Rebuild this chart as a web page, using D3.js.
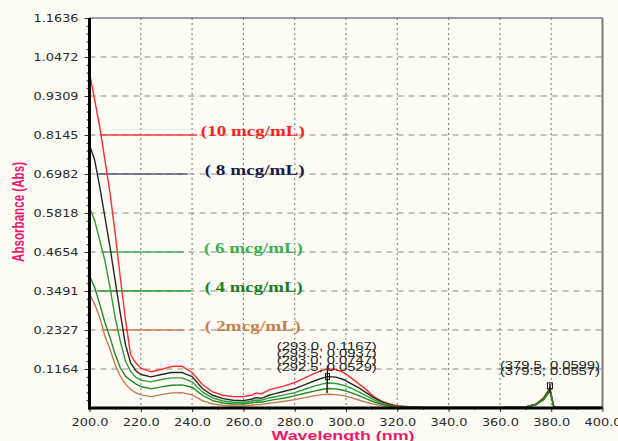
<!DOCTYPE html>
<html>
<head>
<meta charset="utf-8">
<script src="https://cdn.jsdelivr.net/npm/d3@7"></script>
<style>
  body { margin: 0; background: #fdfdf5; }
  svg { display: block; }
  .tick text { font-family: "DejaVu Sans", Verdana, sans-serif; font-size: 11px; fill: #2a2a2a; }
</style>
</head>
<body>
<svg id="chart" width="618" height="441"></svg>
<script>
// wavelengths (nm) shared by all scans
var wavelengths = [200, 202, 204, 206, 208, 210, 212, 214, 216, 218, 220, 224, 228, 232, 236, 240, 244, 248, 252, 256,
  260, 263, 265, 267, 270, 272, 276, 280, 284, 288, 291, 293, 296, 299, 302, 305, 308, 311, 314, 317,
  320, 330, 340, 350, 360, 370, 374, 377, 379.5, 381, 383, 390, 400];

var abs10 = [1.000, 0.920, 0.838, 0.740, 0.641, 0.522, 0.390, 0.265, 0.160, 0.135, 0.119, 0.108, 0.115, 0.124, 0.125, 0.106, 0.070, 0.048, 0.038, 0.034,
  0.034, 0.038, 0.045, 0.042, 0.054, 0.058, 0.066, 0.076, 0.090, 0.104, 0.113, 0.1167, 0.115, 0.106, 0.090, 0.072, 0.054, 0.033, 0.020, 0.012,
  0.006, 0.002, 0.002, 0.002, 0.002, 0.003, 0.012, 0.030, 0.0599, 0.004, 0.002, 0.002, 0.002];
var abs8 = [0.785, 0.740, 0.660, 0.570, 0.480, 0.380, 0.283, 0.190, 0.135, 0.112, 0.100, 0.093, 0.100, 0.106, 0.106, 0.094, 0.058, 0.038, 0.028, 0.023,
  0.022, 0.026, 0.031, 0.029, 0.038, 0.042, 0.050, 0.058, 0.070, 0.082, 0.090, 0.0937, 0.092, 0.085, 0.073, 0.060, 0.045, 0.030, 0.018, 0.010,
  0.005, 0.002, 0.002, 0.002, 0.002, 0.003, 0.011, 0.028, 0.0557, 0.004, 0.002, 0.002, 0.002];
var abs6 = [0.597, 0.560, 0.500, 0.440, 0.360, 0.270, 0.200, 0.140, 0.110, 0.092, 0.083, 0.078, 0.085, 0.090, 0.090, 0.078, 0.048, 0.030, 0.021, 0.017,
  0.017, 0.020, 0.024, 0.023, 0.030, 0.033, 0.039, 0.046, 0.056, 0.066, 0.072, 0.0747, 0.073, 0.068, 0.059, 0.048, 0.036, 0.024, 0.014, 0.008,
  0.004, 0.002, 0.001, 0.002, 0.001, 0.003, 0.010, 0.026, 0.054, 0.004, 0.002, 0.001, 0.002];
var abs4 = [0.394, 0.360, 0.310, 0.255, 0.210, 0.160, 0.120, 0.095, 0.083, 0.072, 0.064, 0.057, 0.063, 0.068, 0.069, 0.062, 0.038, 0.022, 0.015, 0.012,
  0.012, 0.015, 0.018, 0.017, 0.022, 0.025, 0.030, 0.036, 0.044, 0.051, 0.056, 0.058, 0.057, 0.053, 0.046, 0.037, 0.027, 0.018, 0.011, 0.006,
  0.003, 0.001, 0.002, 0.001, 0.002, 0.003, 0.010, 0.025, 0.052, 0.004, 0.002, 0.002, 0.001];
var abs2 = [0.340, 0.310, 0.270, 0.215, 0.175, 0.130, 0.095, 0.072, 0.055, 0.046, 0.039, 0.034, 0.040, 0.045, 0.046, 0.039, 0.022, 0.012, 0.008, 0.006,
  0.006, 0.008, 0.010, 0.010, 0.014, 0.016, 0.020, 0.025, 0.031, 0.037, 0.040, 0.041, 0.040, 0.037, 0.031, 0.024, 0.017, 0.011, 0.007, 0.004,
  0.002, 0.001, 0.001, 0.001, 0.001, 0.002, 0.009, 0.024, 0.050, 0.003, 0.001, 0.001, 0.001];

var seriesNames = ['(10 mcg/mL)', '( 8 mcg/mL)', '( 6 mcg/mL)', '( 4 mcg/mL)', '( 2mcg/mL)'];
var seriesValues = [abs10, abs8, abs6, abs4, abs2];
var curveColors = ['#ff2a2a', '#262626', '#2f9a3a', '#1f8a24', '#c47a50'];
var legendLineColors = ['#ff3c3c', '#55557f', '#45b050', '#2a9a2a', '#c08050'];
var labelColors = ['#ff1e1e', '#1a1a4a', '#3cb050', '#1a7f22', '#c8804c'];
var legendAt = [0.8145, 0.6982, 0.4654, 0.3491, 0.2327];
var legendFrom = [204.1, 202.9, 204.8, 202.9, 205.2];
var legendTo = [241.9, 238.3, 236.7, 239.5, 237.1];
var legendTextAt = [243.4, 244.9, 244.6, 244.9, 244.9];
var legendTextLen = [104, 100, 99, 98, 96];

var yMax = 1.1636;
var yTickLabels = ['0.1164', '0.2327', '0.3491', '0.4654', '0.5818', '0.6982', '0.8145', '0.9309', '1.0472', '1.1636'];
var xTicks = [200, 220, 240, 260, 280, 300, 320, 340, 360, 380, 400];

var peak293Labels = ['(293.0, 0.1167)', '(293.5, 0.0937)', '(293.0, 0.0747)', '(292.5, 0.0529)'];
var peak380Labels = ['(379.5, 0.0599)', '(379.5, 0.0557)'];

var svg = d3.select('#chart');
var margin = { left: 89.5, top: 18, right: 15.5, bottom: 33 };
var width = +svg.attr('width'), height = +svg.attr('height');
var innerW = width - margin.left - margin.right;
var innerH = height - margin.top - margin.bottom;

svg.append('rect').attr('width', width).attr('height', height).attr('fill', '#fdfdf5');

var g = svg.append('g').attr('transform', `translate(${margin.left},${margin.top})`);

var x = d3.scaleLinear().domain([200, 400]).range([0, innerW]);
var y = d3.scaleLinear().domain([0, yMax]).range([innerH, 0]);

var yMajor = d3.range(1, 11).map(function (i) { return i * yMax / 10; });
var yMinor = d3.range(1, 50).map(function (i) { return i * yMax / 50; });
var xMinor = d3.range(210, 400, 10);

// grid
g.append('g').selectAll('line').data(yMajor.slice(0, 9)).enter().append('line')
  .attr('x1', 0).attr('x2', innerW)
  .attr('y1', function (d) { return y(d); }).attr('y2', function (d) { return y(d); })
  .attr('stroke', '#8a8a8a').attr('stroke-width', 1.2).attr('stroke-dasharray', '6,5');
g.append('g').selectAll('line').data(xTicks.slice(1, -1)).enter().append('line')
  .attr('x1', function (d) { return x(d); }).attr('x2', function (d) { return x(d); })
  .attr('y1', 0).attr('y2', innerH)
  .attr('stroke', '#8a8a8a').attr('stroke-width', 1.2).attr('stroke-dasharray', '2,3');

// frame top/right
g.append('line').attr('x1', 0).attr('x2', innerW).attr('y1', 0).attr('y2', 0)
  .attr('stroke', '#3a3a5a').attr('stroke-width', 1);
g.append('line').attr('x1', innerW).attr('x2', innerW).attr('y1', 0).attr('y2', innerH)
  .attr('stroke', '#7a7a7a').attr('stroke-width', 2);

// legend lines
seriesNames.forEach(function (name, i) {
  g.append('line')
    .attr('x1', x(legendFrom[i])).attr('x2', x(legendTo[i]))
    .attr('y1', y(legendAt[i])).attr('y2', y(legendAt[i]))
    .attr('stroke', legendLineColors[i]).attr('stroke-width', 1.3);
  g.append('text')
    .attr('x', x(legendTextAt[i])).attr('y', y(legendAt[i]) + 1)
    .attr('textLength', legendTextLen[i]).attr('lengthAdjust', 'spacingAndGlyphs')
    .attr('font-family', '"Liberation Serif", "Times New Roman", serif')
    .attr('font-weight', 'bold').attr('font-size', 15)
    .attr('fill', labelColors[i])
    .text(name);
});

// curves
var line = d3.line()
  .x(function (d) { return x(d[0]); })
  .y(function (d) { return y(d[1]); });
var drawOrder = [4, 0, 1, 2, 3];
drawOrder.forEach(function (i) {
  g.append('path')
    .datum(wavelengths.map(function (w, j) { return [w, seriesValues[i][j]]; }))
    .attr('fill', 'none')
    .attr('stroke', curveColors[i])
    .attr('stroke-width', 1.4)
    .attr('d', line);
});

// peak markers
g.append('line').attr('x1', x(292.8)).attr('x2', x(292.6))
  .attr('y1', y(0.126)).attr('y2', y(0.045))
  .attr('stroke', '#111').attr('stroke-width', 1.4);
g.append('rect').attr('x', x(292.8) - 2).attr('y', y(0.0937) - 3).attr('width', 4).attr('height', 6)
  .attr('fill', 'none').attr('stroke', '#111').attr('stroke-width', 1);
g.append('line').attr('x1', x(379.5)).attr('x2', x(379.5))
  .attr('y1', y(0.072)).attr('y2', y(0.045))
  .attr('stroke', '#111').attr('stroke-width', 1.4);
g.append('rect').attr('x', x(379.5) - 2.5).attr('y', y(0.075)).attr('width', 5).attr('height', 6)
  .attr('fill', 'none').attr('stroke', '#111').attr('stroke-width', 1);

var peakFont = '"Liberation Sans", Arial, sans-serif';
peak293Labels.forEach(function (t, i) {
  g.append('text')
    .attr('x', x(292.5)).attr('y', y(0.1167) - 19 + i * 7)
    .attr('text-anchor', 'middle')
    .attr('textLength', 100).attr('lengthAdjust', 'spacingAndGlyphs')
    .attr('font-family', peakFont).attr('font-size', 10).attr('fill', '#222')
    .text(t);
});
peak380Labels.forEach(function (t, i) {
  g.append('text')
    .attr('x', x(379.5)).attr('y', y(0.0599) - 19 + i * 6)
    .attr('text-anchor', 'middle')
    .attr('textLength', 100).attr('lengthAdjust', 'spacingAndGlyphs')
    .attr('font-family', peakFont).attr('font-size', 10).attr('fill', '#222')
    .text(t);
});

// axes
var yAxis = d3.axisLeft(y).tickValues(yMajor).tickSize(5).tickPadding(6)
  .tickFormat(function (d, i) { return yTickLabels[i]; });
var yAxisMinor = d3.axisLeft(y).tickValues(yMinor).tickSize(3).tickFormat('');
var xAxis = d3.axisBottom(x).tickValues(xTicks).tickSize(4).tickPadding(6)
  .tickFormat(function (d) { return d.toFixed(1); });
var xAxisMinor = d3.axisBottom(x).tickValues(xMinor).tickSize(2).tickFormat('');

var yG = g.append('g').call(yAxisMinor);
var yG2 = g.append('g').call(yAxis);
var xG = g.append('g').attr('transform', `translate(0,${innerH})`).call(xAxisMinor);
var xG2 = g.append('g').attr('transform', `translate(0,${innerH})`).call(xAxis);

[yG, yG2, xG, xG2].forEach(function (a) {
  a.select('.domain').remove();
  a.selectAll('.tick line').attr('stroke', '#333').attr('stroke-width', 1);
});
yG2.selectAll('.tick text').attr('textLength', 45).attr('lengthAdjust', 'spacingAndGlyphs');
xG2.selectAll('.tick text').attr('font-size', 10.5).attr('textLength', 37).attr('lengthAdjust', 'spacingAndGlyphs');

// thick left / bottom axis lines
g.append('line').attr('x1', 0).attr('x2', 0).attr('y1', 0).attr('y2', innerH + 1.5)
  .attr('stroke', '#000').attr('stroke-width', 3);
g.append('line').attr('x1', -1.5).attr('x2', innerW).attr('y1', innerH).attr('y2', innerH)
  .attr('stroke', '#000').attr('stroke-width', 3);

// axis titles
svg.append('text')
  .attr('transform', 'translate(24,212) rotate(-90)')
  .attr('text-anchor', 'middle')
  .attr('textLength', 100).attr('lengthAdjust', 'spacingAndGlyphs')
  .attr('font-family', '"Liberation Sans", Arial, sans-serif')
  .attr('font-weight', 'bold').attr('font-size', 17)
  .attr('fill', '#f0186a')
  .text('Absorbance (Abs)');
svg.append('text')
  .attr('x', 343).attr('y', 439.5)
  .attr('text-anchor', 'middle')
  .attr('textLength', 143).attr('lengthAdjust', 'spacingAndGlyphs')
  .attr('font-family', '"Liberation Sans", Arial, sans-serif')
  .attr('font-weight', 'bold').attr('font-size', 13)
  .attr('fill', '#f0186a')
  .text('Wavelength (nm)');
</script>
</body>
</html>
